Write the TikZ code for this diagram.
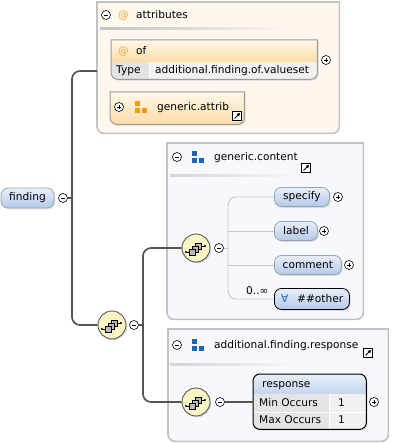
\documentclass[tikz,border=0pt]{standalone}
\usepackage{fontspec}
\setmainfont{DejaVu Sans}
\usetikzlibrary{positioning, calc, arrows.meta, shadows}

\definecolor{attrfill}{HTML}{FDF7EE}
\definecolor{attrtop}{HTML}{FFF7E9}
\definecolor{attrbot}{HTML}{FCDDA6}
\definecolor{contfill}{HTML}{F7F8FC}
\definecolor{framegray}{HTML}{C2C2C2}
\definecolor{elemtop}{HTML}{E8EFFA}
\definecolor{elembot}{HTML}{B4C9E9}
\definecolor{elemline}{HTML}{98A3B4}
\definecolor{seqfill}{HTML}{FBF5C6}
\definecolor{wiregray}{HTML}{555555}
\definecolor{twiggray}{HTML}{C6C6C6}
\definecolor{rowgray}{HTML}{E4E4E4}
\definecolor{cellgray}{HTML}{F1F1F1}
\definecolor{groupblue}{HTML}{1E64B8}
\definecolor{grouporange}{HTML}{F29B12}
\definecolor{atorange}{HTML}{F4A93A}

\newcommand{\ui}{\fontsize{10.6}{12}\selectfont}
% square on the left, round on the right
\newcommand{\rrpath}[1]{(#1.north west) -- (#1.north east) [rounded corners=7pt] -- (#1.south east) -- (#1.south west) [sharp corners] -- cycle}

\tikzset{
  seqglyph/.pic={
    \foreach \d in {2,1,0}
      \draw[fill=gray!55, line width=0.5pt] (-7+3*\d,1-3*\d) rectangle +(6,6);
    \draw[line width=0.8pt] (-10,4) -- (-7,4) (5,-2) -- (9,-2);
    \fill (-10,4) circle[radius=1.1pt] (9,-2) circle[radius=1.1pt];
  },
  groupglyph/.pic={
    \fill (-6,-6) rectangle (-1,-1);
    \fill (-6,1) rectangle (-1,6);
    \fill (1,1) rectangle (6,6);
  },
  linkglyph/.pic={
    \draw[fill=white, line width=0.6pt] (-4.5,-4.5) rectangle (4.5,4.5);
    \draw[-{Triangle[length=3pt,width=3.4pt]}, line width=0.9pt] (-2.5,2.5) -- (3,-3);
  }
}

\begin{document}
\begin{tikzpicture}[x=1pt, y=-1pt, font=\ui,
    txt/.style={inner sep=0pt, text height=1.6ex, text depth=0.3ex, anchor=west},
    cont/.style={anchor=north west, inner sep=0pt, draw=none},
    soft/.style={drop shadow={opacity=0.25, shadow xshift=1.3pt, shadow yshift=-1.3pt}},
    frame/.style={draw=framegray, line width=1.6pt},
    pm/.style={circle, draw=black, fill=white, line width=0.6pt, minimum size=9pt, inner sep=0pt},
    minus/.style={pm, path picture={
      \draw[line width=0.7pt] ([xshift=2.2pt]path picture bounding box.west) -- ([xshift=-2.2pt]path picture bounding box.east);}},
    plus/.style={pm, path picture={
      \draw[line width=0.7pt] ([xshift=2.2pt]path picture bounding box.west) -- ([xshift=-2.2pt]path picture bounding box.east)
        ([yshift=-2.2pt]path picture bounding box.north) -- ([yshift=2.2pt]path picture bounding box.south);}},
    elem/.style={soft, draw=elemline, line width=0.8pt, rounded corners=7pt, top color=elemtop, bottom color=elembot,
      minimum height=19pt, inner sep=0pt, anchor=west},
    seq/.style={soft, circle, draw=wiregray, line width=0.9pt, fill=seqfill, minimum size=28pt, inner sep=0pt},
    wire/.style={draw=wiregray, line width=1.7pt, rounded corners=8pt},
    twig/.style={draw=twiggray, line width=0.9pt, rounded corners=8pt}]
  \useasboundingbox (0,0) rectangle (406,443);

  % Containers
  \node[cont, minimum width=242pt, minimum height=131pt] (attrs) at (97,2) {};
  \draw[frame, fill=attrfill] \rrpath{attrs};
  \node[cont, minimum width=196pt, minimum height=176pt] (content) at (167,143) {};
  \draw[frame, fill=contfill] \rrpath{content};
  \node[cont, minimum width=220pt, minimum height=112pt] (resp) at (168,329) {};
  \draw[frame, fill=contfill] \rrpath{resp};

  % attributes
  \node[minus] (attrsminus) at (106,15) {};
  \node[txt, text=atorange] (attrsat) at (118,15) {@};
  \node[txt] (attrstitle) at (136,15) {attributes};
  \shade[left color=framegray, right color=attrfill] (100,28) rectangle (290,30);

  \node[cont, minimum width=206pt, minimum height=39pt] (of) at (111,40) {};
  \fill[soft, white] \rrpath{of};
  \begin{scope}
    \clip \rrpath{of};
    \shade[top color=attrtop, bottom color=attrbot] (of.north west) rectangle ($(of.north east)+(0,22)$);
    \fill[rowgray] ($(of.north west)+(0,22)$) rectangle ($(of.south west)+(38,0)$);
    \fill[cellgray] ($(of.north west)+(38,22)$) rectangle (of.south east);
    \draw[white, line width=0.8pt] ($(of.north west)+(38,22)$) -- ($(of.south west)+(38,0)$);
  \end{scope}
  \draw[draw=framegray!80!black, line width=1pt] \rrpath{of};
  \node[txt, text=atorange] (ofat) at (118,51) {@};
  \node[txt] (oftitle) at (136,51) {of};
  \node[txt] (oftype) at (116,70) {Type};
  \node[txt] (ofvalue) at (155,70) {additional.finding.of.valueset};
  \node[plus] (ofplus) at (326,60) {};

  \node[cont, minimum width=134pt, minimum height=32pt] (gattrib) at (110,92) {};
  \draw[soft, draw=framegray!80!black, line width=1pt, top color=attrtop, bottom color=attrbot] \rrpath{gattrib};
  \node[plus] (gattribplus) at (119,107) {};
  \pic[grouporange] at (141,107) {groupglyph};
  \node[txt] (gattribtitle) at (157,107) {generic.attrib};
  \pic at (237,116) {linkglyph};

  % generic.content
  \node[minus] (contentminus) at (177,157) {};
  \pic[groupblue] at (198,157) {groupglyph};
  \node[txt] (contenttitle) at (214,157) {generic.content};
  \pic at (306,168) {linkglyph};
  \shade[left color=framegray!70, right color=contfill] (170,175) rectangle (300,177);

  \node[seq] (seqB) at (196,248) {};
  \pic at (seqB) {seqglyph};
  \node[minus] (seqBminus) at (219,248) {};
  \coordinate (forkB) at (228,248);

  \node[elem, minimum width=55pt] (specify) at (274,197) {specify};
  \node[plus] (specifyplus) at (338,197) {};
  \node[elem, minimum width=43pt] (label) at (274,231) {label};
  \node[plus] (labelplus) at (324,231) {};
  \node[elem, minimum width=67pt] (comment) at (274,265) {comment};
  \node[plus] (commentplus) at (349,265) {};
  \node[elem, draw=black, fill=contfill, minimum width=75pt, minimum height=21pt] (other) at (274,299) {};
  \node[txt, text=groupblue] (otherall) at (281,299) {∀};
  \node[txt] (othertitle) at (297,299) {\#\#other};
  \node[txt] (otherocc) at (246,291) {0..∞};

  \draw[twig] (seqBminus.east) -- (forkB);
  \draw[twig] (specify.west) -| (forkB) |- (other.west);
  \draw[twig] (label.west) -- (label.west -| forkB);
  \draw[twig] (comment.west) -- (comment.west -| forkB);

  % additional.finding.response
  \node[minus] (respminus) at (177,345) {};
  \pic[groupblue] at (198,345) {groupglyph};
  \node[txt] (resptitle) at (214,345) {additional.finding.response};
  \pic at (368,353) {linkglyph};
  \shade[left color=framegray!70, right color=contfill] (170,363) rectangle (300,365);

  \node[seq] (seqC) at (196,402) {};
  \pic at (seqC) {seqglyph};
  \node[minus] (seqCminus) at (220,402) {};

  \node[cont, minimum width=113pt, minimum height=55pt] (response) at (253,374) {};
  \fill[soft, white, rounded corners=7pt] (response.north west) rectangle (response.south east);
  \begin{scope}
    \clip[rounded corners=7pt] (response.north west) rectangle (response.south east);
    \shade[top color=elemtop, bottom color=elembot!80] (response.north west) rectangle ($(response.north east)+(0,20)$);
    \fill[rowgray] ($(response.north west)+(0,20)$) rectangle ($(response.south west)+(76,0)$);
    \fill[cellgray] ($(response.north west)+(76,20)$) rectangle (response.south east);
    \draw[white, line width=0.8pt] ($(response.north west)+(0,38)$) -- ($(response.north east)+(0,38)$)
      ($(response.north west)+(76,20)$) -- ($(response.south west)+(76,0)$);
  \end{scope}
  \draw[line width=1pt, rounded corners=7pt] (response.north west) rectangle (response.south east);
  \node[txt] (resptag) at (262,384) {response};
  \node[txt] (respmin) at (259,403) {Min Occurs};
  \node[txt] (respminval) at (338,403) {1};
  \node[txt] (respmax) at (259,420) {Max Occurs};
  \node[txt] (respmaxval) at (338,420) {1};
  \node[plus] (responseplus) at (374,402) {};

  % finding and its sequence
  \node[elem, minimum width=53pt, minimum height=20pt, anchor=center] (finding) at (27.5,198) {finding};
  \node[minus] (findingminus) at (63,198) {};
  \coordinate (trunk) at (72,198);
  \node[seq] (seqA) at (112,325) {};
  \pic at (seqA) {seqglyph};
  \node[minus] (seqAminus) at (134,325) {};
  \coordinate (forkA) at (143,325);

  % Connectors
  \draw[wire] (findingminus.east) -- (trunk);
  \draw[wire] ($(attrs.north west)+(0,69)$) -| (trunk) |- (seqA.west);
  \draw[wire] (seqAminus.east) -- (forkA);
  \draw[wire] (seqB.west) -| (forkA) |- (seqC.west);
  \draw[wire] (seqCminus.east) -- (response.west |- seqCminus);
\end{tikzpicture}
\end{document}
